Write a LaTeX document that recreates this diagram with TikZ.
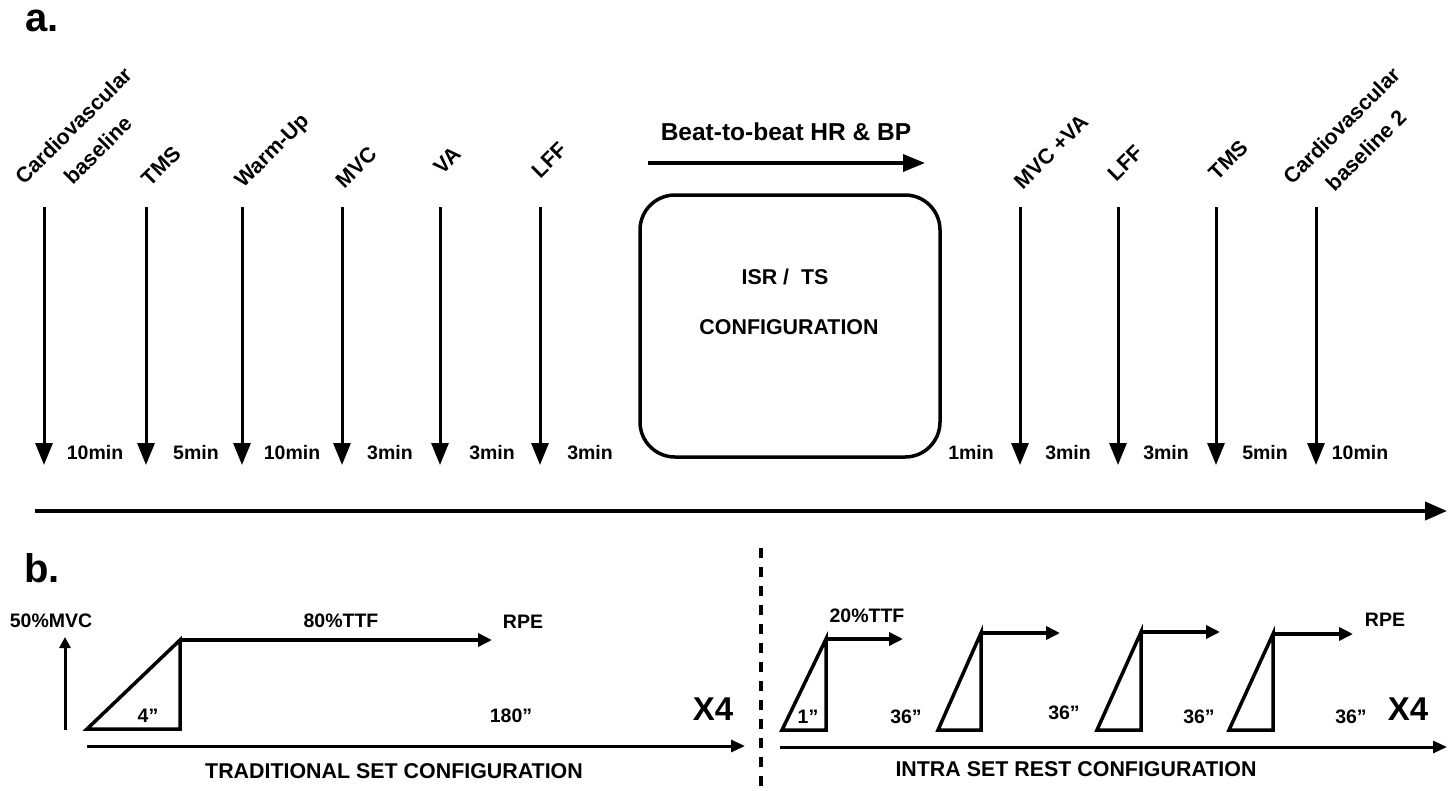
\documentclass[tikz,border=0pt]{standalone}
\usepackage{fontspec}
\setmainfont{Liberation Sans}
\usetikzlibrary{arrows.meta}
\begin{document}
\begin{tikzpicture}[x=1pt,y=-1pt,
  lab/.style={font=\bfseries\fontsize{21.4}{25}\selectfont, inner sep=0pt},
  tlab/.style={font=\bfseries\fontsize{19.5}{23}\selectfont, inner sep=0pt},
  rlab/.style={font=\bfseries\fontsize{21.4}{34.5}\selectfont, inner sep=0pt, rotate=45, align=center},
  big/.style={font=\bfseries\fontsize{40}{44}\selectfont, inner sep=0pt},
  xfour/.style={font=\bfseries\fontsize{33}{36}\selectfont, inner sep=0pt},
  varrow/.style={line width=3pt, -{Triangle[length=22pt,width=17pt]}},
  harrow/.style={line width=3.5pt, -{Triangle[length=22pt,width=17pt]}},
  barrow/.style={line width=3pt, -{Triangle[length=14pt,width=12pt]}},
  sarrow/.style={line width=3.5pt, -{Triangle[length=14pt,width=13pt]}},
  ramp/.style={line width=3.5pt, line join=miter},
  stagebox/.style={draw, line width=3.5pt, rounded corners=35pt, minimum width=300pt, minimum height=262pt, inner sep=0pt}
]
\useasboundingbox (0,0) rectangle (1453,790);

% ---------- part a ----------
\node[big] (la) at (42,21) {a.};

\foreach \x [count=\i] in {44,146,242,342,440,540,1020,1118,1216,1316} {
  \coordinate (t\i) at (\x,207);
  \coordinate (b\i) at (\x,465);
  \draw[varrow] (t\i) -- (b\i);
}

\node[rlab] (c1) at (85.5,138) {Cardiovascular\\baseline};
\node[rlab] (tms1) at (161,166) {TMS};
\node[rlab] (warm) at (273,152) {Warm-Up};
\node[rlab] (mvc) at (356,167) {MVC};
\node[rlab] (va) at (447,160) {VA};
\node[rlab] (lff1) at (549,160) {LFF};
\node[rlab] (mvcva) at (1051,152) {MVC +VA};
\node[rlab] (lff2) at (1125,163) {LFF};
\node[rlab] (tms2) at (1228,160) {TMS};
\node[rlab] (c2) at (1353.5,138) {Cardiovascular\\baseline 2};

\foreach \x/\t [count=\i] in {95/10min,196/5min,292/10min,390/3min,492/3min,590/3min,971/1min,1068/3min,1166/3min,1265/5min,1360/10min} {
  \node[tlab, anchor=base] (d\i) at (\x,459) {\t};
}

\node[stagebox] (box) at (790,326) {};
\node[lab] (isr) at (785,277) {ISR /\ \ TS};
\node[lab] (conf) at (789,327) {CONFIGURATION};

\node[lab, font=\bfseries\fontsize{24.5}{28}\selectfont] (beat) at (786,132) {Beat-to-beat HR \& BP};
\coordinate (bs) at (648,163);
\coordinate (be) at (925,163);
\draw[harrow] (bs) -- (be);

\coordinate (ls) at (35,511);
\coordinate (le) at (1447,511);
\draw[line width=4pt, -{Triangle[length=22pt,width=18pt]}] (ls) -- (le);

% ---------- part b ----------
\node[big] (lb) at (42,568) {b.};

\coordinate (ds) at (761,548);
\coordinate (de) at (761,790);
\draw[line width=4pt, dash pattern=on 10pt off 9pt] (ds) -- (de);

% left: traditional set
\coordinate (us) at (65,730);
\coordinate (ue) at (65,637);
\draw[line width=3pt, -{Triangle[length=11pt,width=11pt]}] (us) -- (ue);
\node[tlab] (mvc50) at (51,621) {50\%MVC};

\coordinate (p1) at (87,729);
\coordinate (p2) at (180,640);
\coordinate (p3) at (180,729);
\draw[ramp] (p1) -- (p2) -- (p3) -- cycle;
\coordinate (p4) at (492,640);
\draw[sarrow] (p2) -- (p4);
\node[tlab] (ttf80) at (341,621) {80\%TTF};
\node[tlab] (rpe1) at (523,622) {RPE};
\node[tlab] (s4) at (148,716) {4''};
\node[tlab] (s180) at (511,716) {180''};
\node[xfour] (x4a) at (713,709) {X4};

\coordinate (ts) at (87,746);
\coordinate (te) at (745,746);
\draw[barrow] (ts) -- (te);
\node[lab] (trad) at (394,771) {TRADITIONAL SET CONFIGURATION};

% right: intra set rest
\foreach \l/\r/\y/\e [count=\i] in {782/826/639/903, 938/981/633/1060, 1097/1141/632/1220, 1229/1273/634/1353} {
  \coordinate (q\i a) at (\l,730);
  \coordinate (q\i b) at (\r,\y);
  \coordinate (q\i c) at (\r,730);
  \coordinate (q\i d) at (\e,\y);
  \draw[ramp] (q\i a) -- (q\i b) -- (q\i c) -- cycle;
  \draw[sarrow] (q\i b) -- (q\i d);
}
\node[tlab] (ttf20) at (867,616) {20\%TTF};
\node[tlab] (rpe2) at (1385,620) {RPE};
\node[tlab] (s1) at (808,717) {1''};
\node[tlab] (s36a) at (906,717) {36''};
\node[tlab] (s36b) at (1064,713) {36''};
\node[tlab] (s36c) at (1199,717) {36''};
\node[tlab] (s36d) at (1351,717) {36''};
\node[xfour] (x4b) at (1408,709) {X4};

\coordinate (is) at (780,747);
\coordinate (ie) at (1447,747);
\draw[barrow] (is) -- (ie);
\node[lab] (intra) at (1076,769) {INTRA SET REST CONFIGURATION};
\end{tikzpicture}
\end{document}
